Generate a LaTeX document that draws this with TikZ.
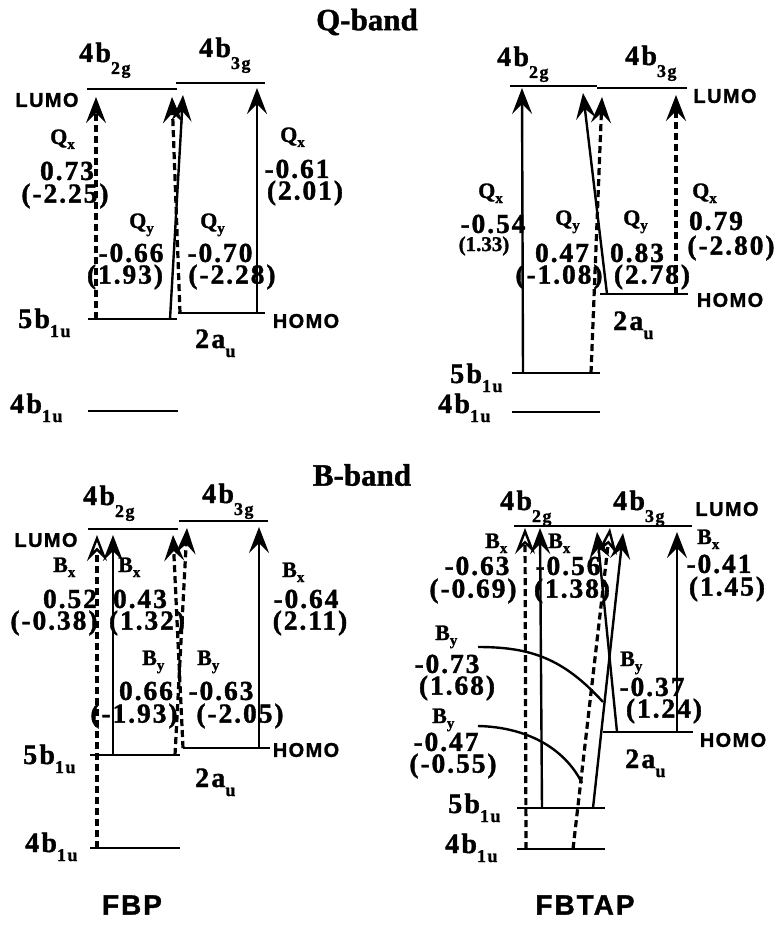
\documentclass[tikz,border=0pt]{standalone}
\usepackage{fontspec}
\setmainfont{Liberation Serif}[BoldFeatures={FakeBold=1.3}]
\newfontfamily\numf{Liberation Serif}[LetterSpace=7,BoldFeatures={FakeBold=1.3}]
\newfontfamily\lvf{Liberation Serif}[LetterSpace=8,BoldFeatures={FakeBold=1.3}]
\newfontfamily\sansf{Liberation Sans}[LetterSpace=7,BoldFeatures={FakeBold=1.2}]
\usetikzlibrary{arrows.meta}
\newcommand{\lvlab}[3]{{\lvf\bfseries\fontsize{28}{28}\selectfont #1}\raisebox{-#3pt}{\lvf\bfseries\fontsize{18}{18}\selectfont #2}}
\newcommand{\trl}[2]{{\bfseries\fontsize{22}{22}\selectfont #1}\raisebox{-5pt}{\bfseries\fontsize{15}{15}\selectfont #2}}
\tikzset{
 lvline/.style={line width=2.5pt},
 trans/.style={line width=2.4pt,-{Stealth[length=26pt,width=20pt,inset=10pt]}},
 dtrans/.style={line width=3.2pt,dash pattern=on 7pt off 4pt,-{Stealth[length=26pt,width=20pt,inset=10pt,line width=2.4pt]}},
 otrans/.style={line width=3.2pt,dash pattern=on 7pt off 4pt,-{Stealth[open,length=26pt,width=20pt,inset=10pt,fill=white,line width=2.4pt]}},
 num/.style={inner sep=0pt,font={\numf\bfseries\fontsize{27.5}{27.5}\selectfont}},
 smallnum/.style={inner sep=0pt,font={\bfseries\fontsize{21}{21}\selectfont}},
 lbl/.style={inner sep=0pt,anchor=base west},
 sanslbl/.style={inner sep=0pt,font={\sansf\bfseries\fontsize{20}{20}\selectfont}},
 title/.style={inner sep=0pt,font={\bfseries\fontsize{31}{31}\selectfont}},
 mol/.style={inner sep=0pt,font={\sansf\bfseries\fontsize{28}{28}\selectfont}},
 curv/.style={line width=2.4pt}
}
\begin{document}
\begin{tikzpicture}[x=1pt,y=-1pt]
\useasboundingbox (0,0) rectangle (782,936);
% ---------- titles ----------
\node[title] (qtitle) at (367,22) {Q-band};
\node[title] (btitle) at (362,475) {B-band};
\node[mol] (fbp) at (132,905) {FBP};
\node[mol] (fbtap) at (585,905) {FBTAP};

% ================= Q-band FBP =================
\coordinate (qa2gl) at (87,89);  \coordinate (qa2gr) at (177,89);
\coordinate (qa3gl) at (176,83); \coordinate (qa3gr) at (265,83);
\coordinate (qa5bl) at (88,319); \coordinate (qa5br) at (177,319);
\coordinate (qa2al) at (178,313);\coordinate (qa2ar) at (265,313);
\coordinate (qa4bl) at (88,411); \coordinate (qa4br) at (178,411);
\draw[lvline] (qa2gl) -- (qa2gr);
\draw[lvline] (qa3gl) -- (qa3gr);
\draw[lvline] (qa5bl) -- (qa5br);
\draw[lvline] (qa2al) -- (qa2ar);
\draw[lvline] (qa4bl) -- (qa4br);
\coordinate (qat1s) at (96,319);  \coordinate (qat1e) at (96,97);
\coordinate (qat2s) at (180,313); \coordinate (qat2e) at (172,97);
\coordinate (qat3s) at (170,319); \coordinate (qat3e) at (183,95);
\coordinate (qat4s) at (257,313); \coordinate (qat4e) at (257,88);
\draw[dtrans] (qat1s) -- (qat1e);
\draw[dtrans] (qat2s) -- (qat2e);
\draw[trans] (qat3s) -- (qat3e);
\draw[trans] (qat4s) -- (qat4e);
\node[lbl] (qal2g) at (79,62) {\lvlab{4b}{2g}{12}};
\node[lbl] (qal3g) at (199,57) {\lvlab{4b}{3g}{12}};
\node[lbl] (qal5b) at (18,328) {\lvlab{5b}{1u}{9}};
\node[lbl] (qal2a) at (195,348) {\lvlab{2a}{u}{9}};
\node[lbl] (qal4b) at (10,413) {\lvlab{4b}{1u}{9}};
\node[sanslbl] (qalumo) at (47,100) {LUMO};
\node[sanslbl] (qahomo) at (306,321) {HOMO};
\node[lbl] (qaqx1) at (50,144) {\trl{Q}{x}};
\node[num] (qan1) at (67,171) {0.73};
\node[num] (qan1b) at (65,196) {(-2.25)};
\node[lbl] (qaqy1) at (129,228) {\trl{Q}{y}};
\node[num] (qan2) at (131,253) {-0.66};
\node[num] (qan2b) at (125,277) {(1.93)};
\node[lbl] (qaqy2) at (200,228) {\trl{Q}{y}};
\node[num] (qan3) at (220,253) {-0.70};
\node[num] (qan3b) at (232,277) {(-2.28)};
\node[lbl] (qaqx2) at (280,142) {\trl{Q}{x}};
\node[num] (qan4) at (297,169) {-0.61};
\node[num] (qan4b) at (305,193) {(2.01)};

% ================= Q-band FBTAP =================
\coordinate (qb2gl) at (510,86); \coordinate (qb2gr) at (597,86);
\coordinate (qb3gl) at (597,88); \coordinate (qb3gr) at (687,88);
\coordinate (qb2al) at (600,294);\coordinate (qb2ar) at (688,294);
\coordinate (qb5bl) at (512,373);\coordinate (qb5br) at (600,373);
\coordinate (qb4bl) at (512,412);\coordinate (qb4br) at (600,412);
\draw[lvline] (qb2gl) -- (qb2gr);
\draw[lvline] (qb3gl) -- (qb3gr);
\draw[lvline] (qb2al) -- (qb2ar);
\draw[lvline] (qb5bl) -- (qb5br);
\draw[lvline] (qb4bl) -- (qb4br);
\coordinate (qbt1s) at (523,373); \coordinate (qbt1e) at (522,88);
\coordinate (qbt2s) at (607,294); \coordinate (qbt2e) at (583,93);
\coordinate (qbt3s) at (591,373); \coordinate (qbt3e) at (602,97);
\coordinate (qbt4s) at (676,294); \coordinate (qbt4e) at (676,95);
\draw[trans] (qbt1s) -- (qbt1e);
\draw[trans] (qbt2s) -- (qbt2e);
\draw[dtrans] (qbt3s) -- (qbt3e);
\draw[dtrans] (qbt4s) -- (qbt4e);
\node[lbl] (qbl2g) at (497,66) {\lvlab{4b}{2g}{12}};
\node[lbl] (qbl3g) at (625,65) {\lvlab{4b}{3g}{12}};
\node[lbl] (qbl5b) at (450,383) {\lvlab{5b}{1u}{9}};
\node[lbl] (qbl4b) at (438,413) {\lvlab{4b}{1u}{9}};
\node[lbl] (qbl2a) at (613,330) {\lvlab{2a}{u}{9}};
\node[sanslbl] (qblumo) at (725,96) {LUMO};
\node[sanslbl] (qbhomo) at (730,300) {HOMO};
\node[lbl] (qbqx1) at (478,198) {\trl{Q}{x}};
\node[num] (qbn1) at (493,224) {-0.54};
\node[smallnum] (qbn1b) at (484,246) {(1.33)};
\node[lbl] (qbqy1) at (555,225) {\trl{Q}{y}};
\node[num] (qbn2) at (562,253) {0.47};
\node[num] (qbn2b) at (559,277) {(-1.08)};
\node[lbl] (qbqy2) at (623,225) {\trl{Q}{y}};
\node[num] (qbn3) at (637,253) {0.83};
\node[num] (qbn3b) at (652,277) {(2.78)};
\node[lbl] (qbqx2) at (692,198) {\trl{Q}{x}};
\node[num] (qbn4) at (716,221) {0.79};
\node[num] (qbn4b) at (731,248) {(-2.80)};

% ================= B-band FBP =================
\coordinate (ba2gl) at (88,529);  \coordinate (ba2gr) at (178,529);
\coordinate (ba3gl) at (179,521); \coordinate (ba3gr) at (268,521);
\coordinate (ba5bl) at (90,755);  \coordinate (ba5br) at (180,755);
\coordinate (ba2al) at (183,748); \coordinate (ba2ar) at (270,748);
\coordinate (ba4bl) at (90,848);  \coordinate (ba4br) at (180,848);
\draw[lvline] (ba2gl) -- (ba2gr);
\draw[lvline] (ba3gl) -- (ba3gr);
\draw[lvline] (ba5bl) -- (ba5br);
\draw[lvline] (ba2al) -- (ba2ar);
\draw[lvline] (ba4bl) -- (ba4br);
\coordinate (bat1s) at (97,848);  \coordinate (bat1e) at (97,535);
\coordinate (bat2s) at (113,755); \coordinate (bat2e) at (113,535);
\coordinate (bat3s) at (175,755); \coordinate (bat3e) at (187,528);
\coordinate (bat4s) at (183,748); \coordinate (bat4e) at (173,535);
\coordinate (bat5s) at (259,748); \coordinate (bat5e) at (259,527);
\draw[otrans] (bat1s) -- (bat1e);
\draw[trans] (bat2s) -- (bat2e);
\draw[dtrans] (bat3s) -- (bat3e);
\draw[dtrans] (bat4s) -- (bat4e);
\draw[trans] (bat5s) -- (bat5e);
\node[lbl] (bal2g) at (83,505) {\lvlab{4b}{2g}{12}};
\node[lbl] (bal3g) at (202,503) {\lvlab{4b}{3g}{12}};
\node[sanslbl] (balumo) at (46,540) {LUMO};
\node[lbl] (bal5b) at (23,764) {\lvlab{5b}{1u}{9}};
\node[lbl] (bal4b) at (25,852) {\lvlab{4b}{1u}{9}};
\node[lbl] (bal2a) at (195,787) {\lvlab{2a}{u}{9}};
\node[sanslbl] (bahomo) at (306,750) {HOMO};
\node[lbl] (babx1) at (53,572) {\trl{B}{x}};
\node[num] (ban1) at (70,599) {0.52};
\node[num] (ban1b) at (54,623) {(-0.38)};
\node[lbl] (babx2) at (118,572) {\trl{B}{x}};
\node[num] (ban2) at (140,599) {0.43};
\node[num] (ban2b) at (147,623) {(1.32)};
\node[lbl] (babx3) at (282,577) {\trl{B}{x}};
\node[num] (ban3) at (306,599) {-0.64};
\node[num] (ban3b) at (310,623) {(2.11)};
\node[lbl] (baby1) at (142,665) {\trl{B}{y}};
\node[num] (ban4) at (146,691) {0.66};
\node[num] (ban4b) at (134,716) {(-1.93)};
\node[lbl] (baby2) at (197,665) {\trl{B}{y}};
\node[num] (ban5) at (221,691) {-0.63};
\node[num] (ban5b) at (240,716) {(-2.05)};

% ================= B-band FBTAP =================
\coordinate (bb2gl) at (514,526); \coordinate (bb2gr) at (603,526);
\coordinate (bb3gl) at (603,526); \coordinate (bb3gr) at (692,526);
\coordinate (bb2al) at (603,732); \coordinate (bb2ar) at (693,732);
\coordinate (bb5bl) at (517,808); \coordinate (bb5br) at (605,808);
\coordinate (bb4bl) at (517,849); \coordinate (bb4br) at (605,849);
\draw[lvline] (bb2gl) -- (bb2gr);
\draw[lvline] (bb3gl) -- (bb3gr);
\draw[lvline] (bb2al) -- (bb2ar);
\draw[lvline] (bb5bl) -- (bb5br);
\draw[lvline] (bb4bl) -- (bb4br);
\coordinate (bbt1s) at (526,849); \coordinate (bbt1e) at (525,528);
\coordinate (bbt2s) at (542,808); \coordinate (bbt2e) at (540,528);
\coordinate (bbt3s) at (617,732); \coordinate (bbt3e) at (597,532);
\coordinate (bbt4s) at (573,849); \coordinate (bbt4e) at (610,528);
\coordinate (bbt5s) at (593,808); \coordinate (bbt5e) at (623,533);
\coordinate (bbt6s) at (677,732); \coordinate (bbt6e) at (677,532);
\draw[otrans] (bbt1s) -- (bbt1e);
\draw[trans] (bbt2s) -- (bbt2e);
\draw[trans] (bbt3s) -- (bbt3e);
\draw[otrans] (bbt4s) -- (bbt4e);
\draw[trans] (bbt5s) -- (bbt5e);
\draw[trans] (bbt6s) -- (bbt6e);
\coordinate (bbc1s) at (478,647); \coordinate (bbc1e) at (603,702);
\coordinate (bbc2s) at (478,726); \coordinate (bbc2e) at (582,783);
\draw[curv] (bbc1s) .. controls (530,647) and (563,658) .. (bbc1e);
\draw[curv] (bbc2s) .. controls (525,727) and (564,747) .. (bbc2e);
\node[lbl] (bbl2g) at (500,510) {\lvlab{4b}{2g}{12}};
\node[lbl] (bbl3g) at (613,510) {\lvlab{4b}{3g}{12}};
\node[sanslbl] (bblumo) at (727,509) {LUMO};
\node[lbl] (bbl5b) at (448,813) {\lvlab{5b}{1u}{9}};
\node[lbl] (bbl4b) at (445,853) {\lvlab{4b}{1u}{9}};
\node[lbl] (bbl2a) at (625,768) {\lvlab{2a}{u}{9}};
\node[sanslbl] (bbhomo) at (733,740) {HOMO};
\node[lbl] (bbbx1) at (485,548) {\trl{B}{x}};
\node[num] (bbn1) at (477,566) {-0.63};
\node[num] (bbn1b) at (473,591) {(-0.69)};
\node[lbl] (bbbx2) at (548,548) {\trl{B}{x}};
\node[num] (bbn2) at (568,566) {-0.56};
\node[num] (bbn2b) at (572,591) {(1.38)};
\node[lbl] (bbbx3) at (697,544) {\trl{B}{x}};
\node[num] (bbn3) at (719,564) {-0.41};
\node[num] (bbn3b) at (727,589) {(1.45)};
\node[lbl] (bbby1) at (435,640) {\trl{B}{y}};
\node[num] (bbn4) at (447,664) {-0.73};
\node[num] (bbn4b) at (457,688) {(1.68)};
\node[lbl] (bbby2) at (432,723) {\trl{B}{y}};
\node[num] (bbn5) at (446,742) {-0.47};
\node[num] (bbn5b) at (453,766) {(-0.55)};
\node[lbl] (bbby3) at (620,666) {\trl{B}{y}};
\node[num] (bbn6) at (652,687) {-0.37};
\node[num] (bbn6b) at (664,711) {(1.24)};
\end{tikzpicture}
\end{document}
